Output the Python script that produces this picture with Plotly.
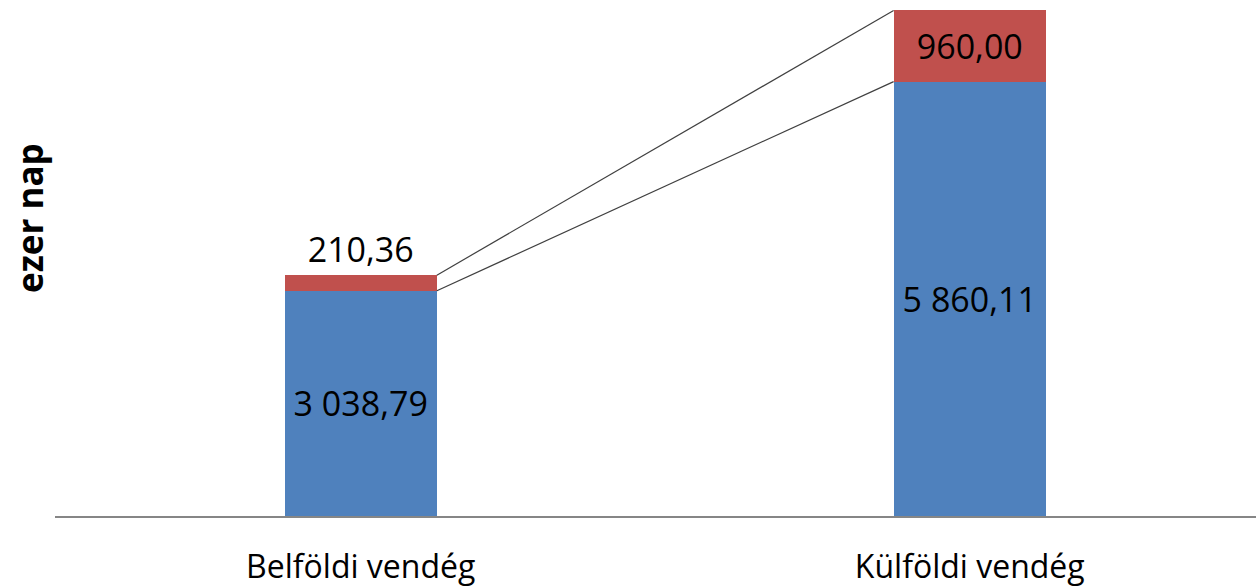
import plotly.graph_objects as go

categories = ["Belföldi vendég", "Külföldi vendég"]
blue_values = [3038.79, 5860.11]
red_values = [210.36, 960.00]

def hu(v):
    s = f"{v:,.2f}"
    return s.replace(",", " ").replace(".", ",")

xpos = [0, 1]
bw = 0.25
font = "Open Sans"
fig = go.Figure()
fig.add_trace(go.Bar(x=xpos, y=blue_values, width=bw, marker=dict(color="#4F81BD", line=dict(width=0)),
                     text=[hu(v) for v in blue_values], textposition="inside", insidetextanchor="middle",
                     constraintext="none",
                     textfont=dict(family=font, size=34, color="black"), hoverinfo="skip"))
fig.add_trace(go.Bar(x=xpos, y=red_values, width=bw, marker=dict(color="#C0504D", line=dict(width=0)),
                     text=[hu(v) for v in red_values], textposition=["outside", "inside"],
                     insidetextanchor="middle", constraintext="none",
                     textfont=dict(family=font, size=34, color="black"), cliponaxis=False, hoverinfo="skip"))

# series lines connecting bar tops
tops_blue = blue_values
tops_total = [b + r for b, r in zip(blue_values, red_values)]
for ys in (tops_blue, tops_total):
    fig.add_trace(go.Scatter(x=[xpos[0] + bw / 2, xpos[1] - bw / 2], y=ys, mode="lines",
                             line=dict(color="#404040", width=1.2), hoverinfo="skip", cliponaxis=False))

fig.update_layout(
    width=1256, height=587, barmode="stack", showlegend=False,
    paper_bgcolor="white", plot_bgcolor="white",
    margin=dict(l=55, r=0, t=6, b=71),
    font=dict(family=font, color="black"),
    xaxis=dict(range=[-0.502, 1.470], tickvals=xpos, ticktext=categories, showgrid=False, zeroline=False,
               showline=True, linecolor="#868686", linewidth=2, ticks="",
               tickfont=dict(family=font, size=32, color="black"), ticklabelstandoff=22),
    yaxis=dict(range=[0, 6880], showticklabels=False, showgrid=False, zeroline=False, showline=False),
    annotations=[dict(text="<b>ezer nap</b>", x=(30 - 55) / 1201, y=(516 - 218) / 510,
                      xref="paper", yref="paper", showarrow=False, xanchor="center", yanchor="middle",
                      textangle=-90, font=dict(family=font, size=35, color="black"))],
)
fig.write_html("out.html")
